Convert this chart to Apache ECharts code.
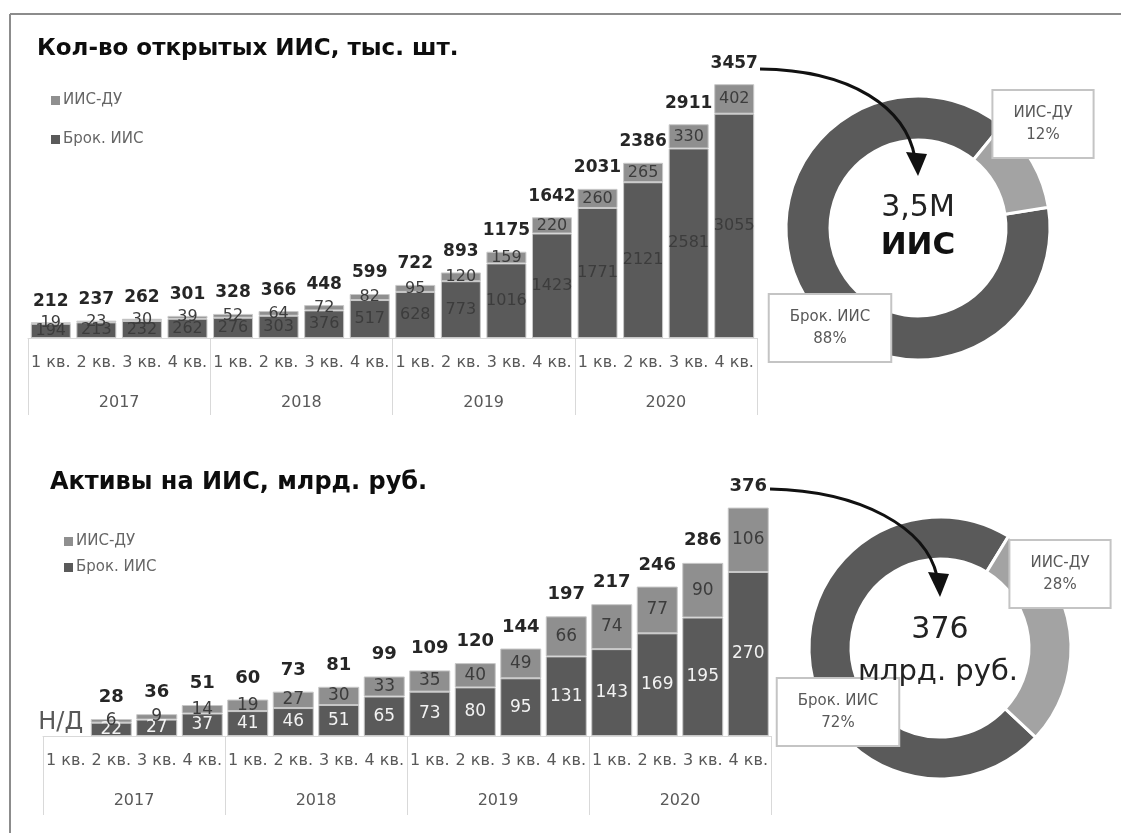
<!DOCTYPE html>
<html>
<head>
<meta charset="utf-8">
<script src="https://cdn.jsdelivr.net/npm/echarts@6/dist/echarts.min.js"></script>
<style>
html,body{margin:0;padding:0;background:#fff;}
#chart{width:1121px;height:833px;}
</style>
</head>
<body>
<div id="chart"></div>
<script>
// ---------- DATA ----------
const quarters = ['1 кв.','2 кв.','3 кв.','4 кв.','1 кв.','2 кв.','3 кв.','4 кв.','1 кв.','2 кв.','3 кв.','4 кв.','1 кв.','2 кв.','3 кв.','4 кв.'];
const years = ['2017','2018','2019','2020'];

// Top: number of accounts, thousand
const countBrok  = [194,213,232,262,276,303,376,517,628,773,1016,1423,1771,2121,2581,3055];
const countDU    = [19,23,30,39,52,64,72,82,95,120,159,220,260,265,330,402];
const countTotal = [212,237,262,301,328,366,448,599,722,893,1175,1642,2031,2386,2911,3457];

// Bottom: assets, bln rub (first quarter n/a)
const assetBrok  = [null,22,27,37,41,46,51,65,73,80,95,131,143,169,195,270];
const assetDU    = [null,6,9,14,19,27,30,33,35,40,49,66,74,77,90,106];
const assetTotal = [null,28,36,51,60,73,81,99,109,120,144,197,217,246,286,376];

const nameDU = 'ИИС-ДУ';
const nameBrok = 'Брок. ИИС';
const titleTop = 'Кол-во открытых ИИС, тыс. шт.';
const titleBottom = 'Активы на ИИС, млрд. руб.';
const donutTopText = ['3,5М', 'ИИС'];
const donutBottomText = ['376', 'млрд. руб.'];
const naText = 'Н/Д';

// ---------- STYLE ----------
const FONT = "'DejaVu Sans', Verdana, sans-serif";
const DARK = '#5a5a5a';
const LIGHT = '#8f8f8f';
const PIE_LIGHT = '#a3a3a3';
const AXIS_GRAY = '#d9d9d9';
const TXT = '#595959';

function quarterAxis(grid) {
  return {
    type: 'category', gridIndex: grid, data: quarters,
    axisLine: {show: true, lineStyle: {color: AXIS_GRAY, width: 1}},
    axisTick: {show: false},
    axisLabel: {interval: 0, margin: 17, fontSize: 16, color: TXT, fontFamily: FONT}
  };
}
function yearAxis(grid, tickLen, margin) {
  return {
    type: 'category', gridIndex: grid, data: years, position: 'bottom',
    axisLine: {show: false},
    axisTick: {show: true, length: tickLen, interval: 0, lineStyle: {color: AXIS_GRAY, width: 1}},
    axisLabel: {interval: 0, margin: margin, fontSize: 16, color: TXT, fontFamily: FONT}
  };
}
function barSeries(name, data, xi, yi, color, labelColor, bw, fs) {
  return {
    type: 'bar', name: name, stack: 's' + yi, data: data,
    xAxisIndex: xi, yAxisIndex: yi, barWidth: bw,
    itemStyle: {color: color, borderColor: '#c8c8c8', borderWidth: 1},
    label: {show: true, position: 'inside', color: labelColor, fontSize: fs, fontFamily: FONT},
    emphasis: {disabled: true}, silent: true
  };
}
function totalSeries(data, xi, yi, fs) {
  return {
    type: 'scatter', data: data, xAxisIndex: xi, yAxisIndex: yi,
    symbolSize: 1, itemStyle: {color: 'rgba(0,0,0,0)', opacity: 1}, silent: true,
    label: {show: true, position: 'top', distance: 12, color: '#262626', fontWeight: 'bold', fontSize: fs, fontFamily: FONT}
  };
}
const pieLabelStyle = {
  show: true, position: 'inside', formatter: '{b}\n{d}%',
  color: TXT, fontSize: 15, lineHeight: 22, fontFamily: FONT, align: 'center',
  backgroundColor: '#fff', borderColor: '#c4c4c4', borderWidth: 2, padding: [11, 20],
  overflow: 'none'
};

const chart = echarts.init(document.getElementById('chart'), null, {renderer: 'canvas'});

const legendCommon = {
  orient: 'vertical', itemWidth: 9, itemHeight: 9, icon: 'rect',
  data: [nameDU, nameBrok], selectedMode: false,
  itemStyle: {borderWidth: 0},
  textStyle: {color: '#666', fontSize: 15, fontFamily: FONT, padding: [0,0,0,-2]}
};

const option = {
  animation: false,
  backgroundColor: '#fff',
  textStyle: {fontFamily: FONT},
  title: [
    {text: titleTop, left: 32, top: 33, textStyle: {fontSize: 23, fontWeight: 'bold', color: '#0d0d0d', fontFamily: FONT}},
    {text: titleBottom, left: 45, top: 466, textStyle: {fontSize: 24, fontWeight: 'bold', color: '#0d0d0d', fontFamily: FONT}}
  ],
  legend: [
    Object.assign({left: 46, top: 88, itemGap: 24}, legendCommon),
    Object.assign({left: 59, top: 529, itemGap: 11}, legendCommon)
  ],
  grid: [
    {left: 28, right: 364, top: 81, bottom: 495, containLabel: false},
    {left: 43, right: 350, top: 493, bottom: 97, containLabel: false}
  ],
  xAxis: [
    quarterAxis(0),
    yearAxis(0, 77, 57),
    quarterAxis(1),
    yearAxis(1, 79, 57)
  ],
  yAxis: [
    {type: 'value', gridIndex: 0, min: 0, max: 3500, show: false},
    {type: 'value', gridIndex: 1, min: 0, max: 400, show: false}
  ],
  series: [
    barSeries(nameBrok, countBrok, 0, 0, DARK, '#3c3c3c', 40, 16),
    barSeries(nameDU, countDU, 0, 0, LIGHT, '#3c3c3c', 40, 16),
    totalSeries(countTotal, 0, 0, 17),
    barSeries(nameBrok, assetBrok, 2, 1, DARK, '#f2f2f2', 41, 17),
    barSeries(nameDU, assetDU, 2, 1, LIGHT, '#3c3c3c', 41, 17),
    totalSeries(assetTotal, 2, 1, 18),
    {
      type: 'scatter', xAxisIndex: 2, yAxisIndex: 1, data: [[0, 0]],
      symbolSize: 1, itemStyle: {color: 'rgba(0,0,0,0)', opacity: 1}, silent: true,
      label: {show: true, position: 'top', distance: 1, offset: [-5, 0], formatter: naText,
              color: TXT, fontSize: 24, fontFamily: FONT}
    },
    {
      type: 'pie', center: [918, 228], radius: [88, 132], startAngle: 9, clockwise: true,
      percentPrecision: 0, silent: true,
      itemStyle: {borderColor: '#fff', borderWidth: 3},
      data: [
        {name: nameBrok, value: countBrok[15], itemStyle: {color: DARK}},
        {name: nameDU, value: countDU[15], itemStyle: {color: PIE_LIGHT}}
      ],
      label: pieLabelStyle,
      labelLine: {show: false},
      labelLayout: function (p) {
        return p.dataIndex === 0 ? {x: 830, y: 328, align: 'center', verticalAlign: 'middle'}
                                 : {x: 1043, y: 124, align: 'center', verticalAlign: 'middle'};
      }
    },
    {
      type: 'pie', center: [940, 648], radius: [89, 131], startAngle: -43, clockwise: true,
      percentPrecision: 0, silent: true,
      itemStyle: {borderColor: '#fff', borderWidth: 3},
      data: [
        {name: nameBrok, value: assetBrok[15], itemStyle: {color: DARK}},
        {name: nameDU, value: assetDU[15], itemStyle: {color: PIE_LIGHT}}
      ],
      label: pieLabelStyle,
      labelLine: {show: false},
      labelLayout: function (p) {
        return p.dataIndex === 0 ? {x: 838, y: 712, align: 'center', verticalAlign: 'middle'}
                                 : {x: 1060, y: 574, align: 'center', verticalAlign: 'middle'};
      }
    }
  ],
  graphic: [
    // frame
    {type: 'line', shape: {x1: 10, y1: 14, x2: 1121, y2: 14}, style: {stroke: '#8c8c8c', lineWidth: 2}, z: 100},
    {type: 'line', shape: {x1: 10, y1: 14, x2: 10, y2: 833}, style: {stroke: '#8c8c8c', lineWidth: 2}, z: 100},
    // donut centre texts
    {type: 'text', x: 918, y: 208, z: 100, style: {text: donutTopText[0], fontSize: 30, fill: '#222', fontFamily: FONT, align: 'center', verticalAlign: 'middle'}},
    {type: 'text', x: 918, y: 246, z: 100, style: {text: donutTopText[1], fontSize: 31, fontWeight: 'bold', fill: '#111', fontFamily: FONT, align: 'center', verticalAlign: 'middle'}},
    {type: 'text', x: 940, y: 630, z: 100, style: {text: donutBottomText[0], fontSize: 30, fill: '#222', fontFamily: FONT, align: 'center', verticalAlign: 'middle'}},
    {type: 'text', x: 938, y: 672, z: 100, style: {text: donutBottomText[1], fontSize: 29, fill: '#222', fontFamily: FONT, align: 'center', verticalAlign: 'middle'}},
    // arrows
    {type: 'bezierCurve', z: 100, shape: {x1: 760, y1: 69, cpx1: 852, cpy1: 70, cpx2: 906, cpy2: 108, x2: 915, y2: 158},
     style: {stroke: '#111', lineWidth: 3, fill: null}},
    {type: 'polygon', z: 100, shape: {points: [[906, 152], [927, 154], [918, 176]]}, style: {fill: '#111'}},
    {type: 'bezierCurve', z: 100, shape: {x1: 770, y1: 489, cpx1: 862, cpy1: 491, cpx2: 926, cpy2: 528, x2: 937, y2: 576},
     style: {stroke: '#111', lineWidth: 3, fill: null}},
    {type: 'polygon', z: 100, shape: {points: [[928, 572], [949, 574], [940, 597]]}, style: {fill: '#111'}}
  ]
};

chart.setOption(option);
</script>
</body>
</html>
